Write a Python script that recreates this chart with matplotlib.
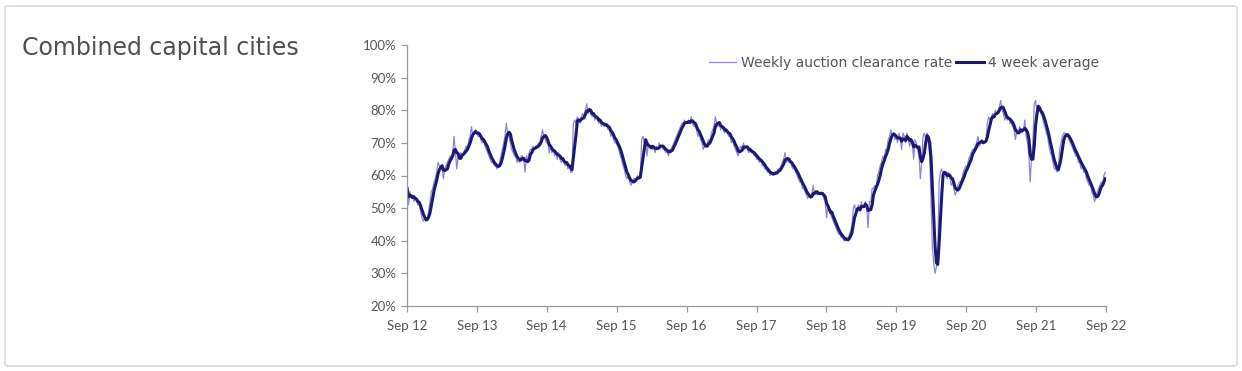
import numpy as np
import pandas as pd
import matplotlib
matplotlib.use("Agg")
import matplotlib.pyplot as plt
import matplotlib.dates as mdates
from matplotlib.patches import FancyBboxPatch

plt.rcParams["font.family"] = ["Lato", "DejaVu Sans"]

# --- Weekly auction clearance rate (%), one row per year from Sep 2012 ---
weekly_12 = [56, 51, 55, 53, 54, 52, 53, 52, 51, 51, 49, 47, 46, 47, 46, 47, 49, 52, 55, 56,
             58, 59, 61, 64, 63, 62, 63, 59, 62, 63, 64, 65, 66, 66, 67, 72, 67, 62, 66, 66,
             67, 66, 67, 68, 69, 68, 71, 72, 75, 72, 73, 74]
weekly_13 = [73, 72, 72, 71, 70, 71, 69, 68, 67, 66, 65, 64, 64, 63, 63, 62, 63, 64, 66, 68,
             70, 72, 76, 73, 72, 70, 68, 67, 66, 66, 64, 65, 64, 66, 66, 65, 61, 66, 65, 67,
             68, 68, 69, 68, 69, 69, 70, 70, 72, 74, 72, 71]
weekly_14 = [70, 70, 67, 69, 67, 68, 66, 67, 65, 67, 65, 64, 65, 64, 63, 64, 62, 63, 61, 61,
             76, 77, 76, 78, 77, 76, 78, 79, 78, 80, 82, 79, 80, 79, 78, 79, 77, 78, 77, 76,
             77, 75, 76, 75, 76, 75, 74, 74, 72, 73, 71, 70]
weekly_15 = [70, 69, 68, 66, 65, 63, 62, 60, 59, 60, 58, 57, 58, 59, 59, 59, 60, 59, 60, 71,
             72, 70, 71, 66, 70, 69, 69, 68, 69, 67, 69, 68, 70, 69, 69, 68, 68, 67, 68, 66,
             68, 68, 69, 70, 71, 72, 73, 74, 75, 76, 76, 77]
weekly_16 = [76, 76, 77, 76, 78, 76, 75, 75, 74, 72, 73, 71, 70, 68, 69, 69, 70, 71, 70, 73,
             74, 75, 78, 76, 75, 76, 74, 75, 74, 73, 74, 73, 72, 72, 70, 71, 69, 68, 67, 66,
             68, 69, 68, 70, 68, 69, 68, 67, 68, 67, 67, 66]
weekly_17 = [66, 65, 65, 64, 65, 63, 63, 62, 62, 61, 61, 60, 61, 60, 61, 61, 61, 62, 62, 63,
             64, 65, 67, 64, 65, 64, 64, 63, 62, 62, 61, 60, 59, 58, 58, 56, 56, 55, 54, 53,
             54, 53, 54, 57, 54, 55, 54, 55, 54, 55, 54, 53]
weekly_18 = [52, 47, 51, 49, 48, 47, 46, 45, 44, 43, 42, 42, 41, 41, 40, 40, 41, 40, 42, 43,
             45, 50, 51, 48, 50, 51, 49, 52, 50, 51, 52, 50, 44, 52, 52, 56, 56, 57, 56, 60,
             61, 63, 64, 66, 65, 68, 68, 71, 72, 74, 72, 73]
weekly_19 = [71, 72, 70, 73, 71, 68, 73, 72, 70, 73, 71, 69, 71, 70, 65, 71, 70, 68, 66, 59,
             64, 72, 73, 71, 73, 70, 66, 52, 38, 33, 30, 32, 36, 58, 61, 62, 60, 61, 60, 59,
             61, 60, 57, 58, 56, 54, 55, 57, 58, 58, 59, 61]
weekly_20 = [62, 63, 62, 65, 66, 67, 68, 68, 69, 70, 72, 69, 70, 71, 70, 70, 71, 76, 78, 77,
             78, 79, 78, 80, 79, 80, 81, 83, 80, 79, 77, 78, 77, 78, 76, 76, 75, 74, 71, 74,
             73, 75, 74, 73, 74, 77, 72, 70, 66, 58, 66, 70]
weekly_21 = [82, 83, 80, 80, 80, 79, 78, 76, 75, 73, 72, 69, 67, 66, 64, 62, 62, 61, 62, 68,
             70, 72, 73, 73, 72, 72, 71, 70, 69, 68, 67, 66, 66, 64, 64, 62, 63, 61, 61, 59,
             58, 57, 57, 55, 54, 52, 53, 55, 56, 57, 58, 57, 60, 61]

year_ticks = ["Sep 12", "Sep 13", "Sep 14", "Sep 15", "Sep 16", "Sep 17",
              "Sep 18", "Sep 19", "Sep 20", "Sep 21", "Sep 22"]
y_ticks = [20, 30, 40, 50, 60, 70, 80, 90, 100]

weekly = (weekly_12 + weekly_13 + weekly_14 + weekly_15 + weekly_16 +
          weekly_17 + weekly_18 + weekly_19 + weekly_20 + weekly_21)
dates = pd.date_range("2012-09-02", periods=len(weekly), freq="7D")
s = pd.Series(weekly, index=dates, dtype=float)
avg4 = s.rolling(4, min_periods=1).mean()

fig = plt.figure(figsize=(12.42, 3.71), dpi=100)
fig.patches.append(FancyBboxPatch((5 / 1242, 5 / 371), 1232 / 1242, 360 / 371,
                                  boxstyle="round,pad=0,rounding_size=0.004",
                                  transform=fig.transFigure, facecolor="white",
                                  edgecolor="#dcdcdc", linewidth=1.2, zorder=-1))
fig.text(22 / 1242, 1 - 48 / 371, "Combined capital cities", fontsize=17,
         color="#505050", va="center", ha="left", family="DejaVu Sans")

ax = fig.add_axes([407 / 1242, 1 - 306 / 371, 699 / 1242, 261 / 371])
ax.plot(s.index, s.values, color="#8e84e0", lw=0.9, label="Weekly auction clearance rate")
ax.plot(avg4.index, avg4.values, color="#1c1a6e", lw=2.2, label="4 week average")

tick_dates = pd.date_range("2012-09-01", periods=len(year_ticks), freq="12MS")
ax.set_xlim(tick_dates[0], tick_dates[-1])
ax.set_xticks(tick_dates)
ax.set_xticklabels(year_ticks)
ax.set_ylim(20, 100)
ax.set_yticks(y_ticks)
ax.set_yticklabels([f"{v}%" for v in y_ticks])

for sp in ["top", "right"]:
    ax.spines[sp].set_visible(False)
for sp in ["left", "bottom"]:
    ax.spines[sp].set_color("#9a9a9a")
    ax.spines[sp].set_linewidth(0.9)
ax.tick_params(axis="both", colors="#9a9a9a", length=4, width=0.9,
               labelcolor="#555555", labelsize=9.5)
ax.tick_params(axis="x", pad=6)

leg = ax.legend(loc="upper right", bbox_to_anchor=(1.0, 0.985), ncol=2, frameon=False,
                prop={"family": "DejaVu Sans", "size": 10},
                handlelength=2.0, handletextpad=0.3, columnspacing=0.3,
                borderaxespad=0.1)
for t in leg.get_texts():
    t.set_color("#555555")

fig.savefig("out.png", dpi=100)
